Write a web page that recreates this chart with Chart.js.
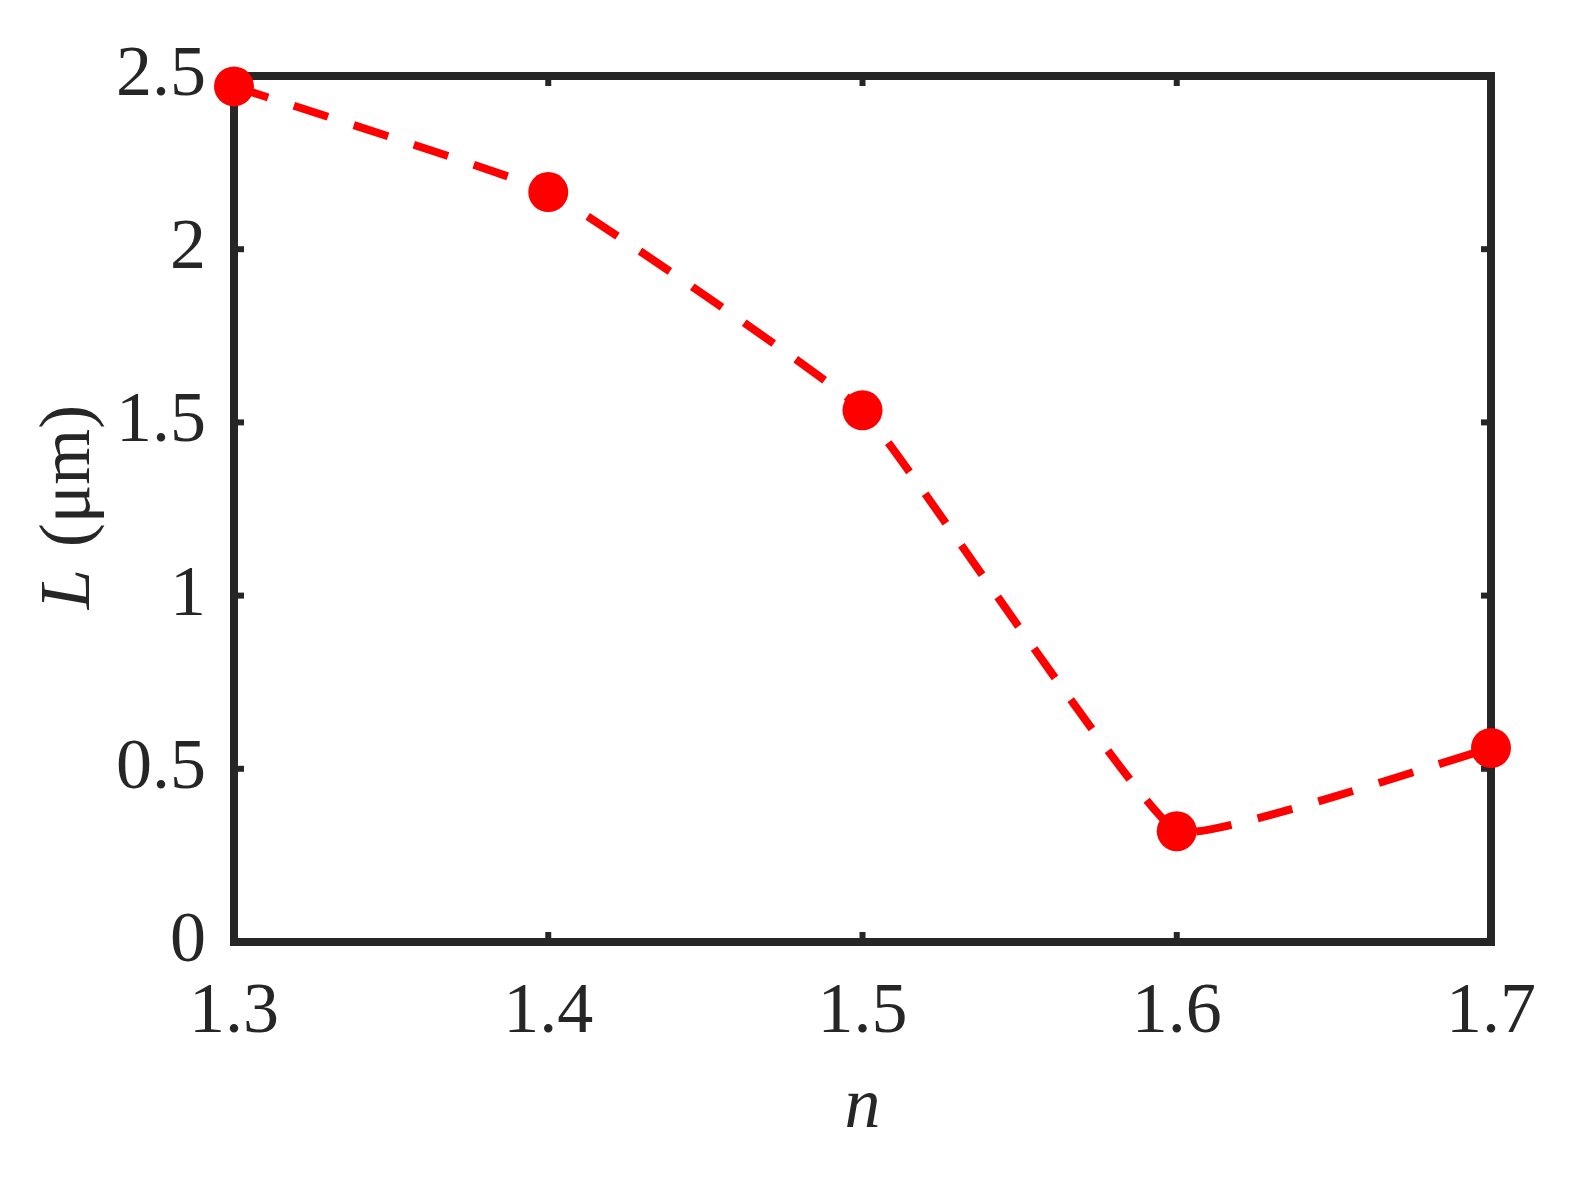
<!DOCTYPE html>
<html>
<head>
<meta charset="utf-8">
<script src="https://cdn.jsdelivr.net/npm/chart.js@4/dist/chart.umd.min.js"></script>
<style>
html,body{margin:0;padding:0;background:#fff;}
#wrap{width:1572px;height:1198px;position:relative;}
.pre{font-family:'Liberation Serif';position:absolute;left:-9999px;}
</style>
</head>
<body>
<span class="pre">1.3 <i>L</i></span>
<div id="wrap"><canvas id="c"></canvas></div>
<script>
const nValues = [1.3, 1.4, 1.5, 1.6, 1.7];
const lValues = [2.47, 2.165, 1.535, 0.32, 0.56];
const xTicks = [1.3, 1.4, 1.5, 1.6, 1.7];
const yTicks = [0, 0.5, 1, 1.5, 2, 2.5];
const xTitle = 'n';
const yTitleItalic = 'L';
const yTitleRest = ' (μm)';

const AXIS_COLOR = '#262626';
const FONT = "'Liberation Serif', 'Times New Roman', Times, serif";

const framePlugin = {
  id: 'frame',
  beforeDatasetsDraw(chart) {
    const {ctx, chartArea: a, scales} = chart;
    ctx.save();
    ctx.strokeStyle = AXIS_COLOR;
    ctx.lineWidth = 8;
    ctx.lineCap = 'square';
    ctx.strokeRect(a.left, a.top, a.right - a.left, a.bottom - a.top);
    ctx.lineWidth = 6;
    ctx.lineCap = 'butt';
    const tl = 10;
    xTicks.forEach(v => {
      const px = scales.x.getPixelForValue(v);
      ctx.beginPath(); ctx.moveTo(px, a.bottom); ctx.lineTo(px, a.bottom - tl); ctx.stroke();
      ctx.beginPath(); ctx.moveTo(px, a.top); ctx.lineTo(px, a.top + tl); ctx.stroke();
    });
    yTicks.forEach(v => {
      const py = scales.y.getPixelForValue(v);
      ctx.beginPath(); ctx.moveTo(a.left, py); ctx.lineTo(a.left + tl, py); ctx.stroke();
      ctx.beginPath(); ctx.moveTo(a.right, py); ctx.lineTo(a.right - tl, py); ctx.stroke();
    });
    ctx.restore();
  },
  afterDraw(chart) {
    const {ctx, chartArea: a} = chart;
    ctx.save();
    ctx.fillStyle = AXIS_COLOR;
    ctx.font = 'italic 72px ' + FONT;
    ctx.textAlign = 'center';
    ctx.textBaseline = 'alphabetic';
    ctx.fillText(xTitle, (a.left + a.right) / 2, 1127);
    ctx.translate(89, (a.top + a.bottom) / 2);
    ctx.rotate(-Math.PI / 2);
    ctx.font = 'italic 72px ' + FONT;
    const w1 = ctx.measureText(yTitleItalic).width;
    ctx.font = '72px ' + FONT;
    const w2 = ctx.measureText(yTitleRest).width;
    let x0 = -(w1 + w2) / 2;
    ctx.textAlign = 'left';
    ctx.font = 'italic 72px ' + FONT;
    ctx.fillText(yTitleItalic, x0, 0);
    ctx.font = '72px ' + FONT;
    ctx.fillText(yTitleRest, x0 + w1 + 4, 0);
    ctx.restore();
  }
};

function build() {
  new Chart(document.getElementById('c'), {
    type: 'line',
    data: {
      datasets: [{
        data: nValues.map((x, i) => ({x: x, y: lValues[i]})),
        borderColor: '#ff0000',
        backgroundColor: '#ff0000',
        borderWidth: 8,
        borderDash: [36, 27],
        pointRadius: 20,
        pointHoverRadius: 20,
        pointBorderWidth: 0,
        tension: 0.1,
        clip: false
      }]
    },
    options: {
      responsive: true,
      maintainAspectRatio: false,
      animation: false,
      events: [],
      layout: {padding: {top: 76, right: 81, left: 0, bottom: 0}},
      plugins: {legend: {display: false}, tooltip: {enabled: false}},
      scales: {
        x: {
          type: 'linear',
          min: 1.3, max: 1.7,
          afterBuildTicks: s => { s.ticks = xTicks.map(v => ({value: v})); },
          afterFit: s => { s.height = 1198 - 942; },
          grid: {display: false, drawTicks: false},
          border: {display: false},
          ticks: {
            color: AXIS_COLOR,
            font: {family: FONT, size: 72},
            padding: 28,
            maxRotation: 0,
            callback: v => v.toFixed(1)
          }
        },
        y: {
          type: 'linear',
          min: 0, max: 2.5,
          afterBuildTicks: s => { s.ticks = yTicks.map(v => ({value: v})); },
          afterFit: s => { s.width = 234; },
          grid: {display: false, drawTicks: false},
          border: {display: false},
          ticks: {
            color: AXIS_COLOR,
            font: {family: FONT, size: 72},
            padding: 28,
            callback: v => String(v)
          }
        }
      }
    },
    plugins: [framePlugin]
  });
}
Promise.all([
  document.fonts.load("72px 'Liberation Serif'"),
  document.fonts.load("italic 72px 'Liberation Serif'")
]).then(build, build);
</script>
</body>
</html>
